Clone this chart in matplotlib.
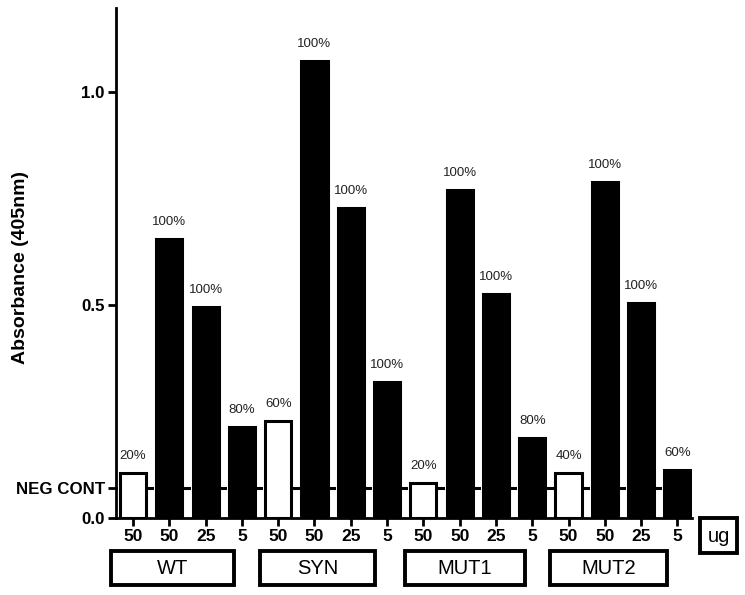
import matplotlib.pyplot as plt
from matplotlib.patches import Rectangle

plt.rcParams['font.family'] = ['Liberation Sans', 'DejaVu Sans']

# Data
groups = ['WT', 'SYN', 'MUT1', 'MUT2']
doses = ['50', '50', '25', '5'] * 4
values = [0.106, 0.655, 0.495, 0.214,
          0.228, 1.073, 0.728, 0.319,
          0.082, 0.770, 0.526, 0.188,
          0.106, 0.789, 0.505, 0.113]
percents = ['20%', '100%', '100%', '80%',
            '60%', '100%', '100%', '100%',
            '20%', '100%', '100%', '80%',
            '40%', '100%', '100%', '60%']
is_control = [True, False, False, False] * 4
neg_cont = 0.070

fig = plt.figure(figsize=(7.45, 5.95), dpi=100)
ax = fig.add_axes([0.1557, 0.1294, 0.773, 0.857])

x = list(range(len(values)))
w = 0.72
ax.axhline(neg_cont, color='black', lw=2.2, zorder=1)
# white halo around bars so the line stops just short of them
ax.bar(x, values, width=w + 0.1, color='white', edgecolor='none', zorder=2)
colors = ['white' if c else 'black' for c in is_control]
ax.bar(x, values, width=w, color=colors, edgecolor='black', linewidth=2.2, zorder=3)

for xi, v, p in zip(x, values, percents):
    ax.text(xi, v + 0.025, p, ha='center', va='bottom', fontsize=9.5, color='#222222')

ax.set_xlim(-0.47, 15.4)
ax.set_ylim(0, 1.197)
ax.set_xticks(x)
ax.set_xticklabels(doses, fontsize=12.5, fontweight='bold')
ax.set_yticks([0, neg_cont, 0.5, 1.0])
ax.set_yticklabels(['0.0', 'NEG CONT', '0.5', '1.0'], fontsize=12.2, fontweight='bold')
ax.tick_params(width=2, length=6, direction='out', pad=2)
ax.spines['top'].set_visible(False)
ax.spines['right'].set_visible(False)
ax.spines['left'].set_linewidth(2)
ax.spines['bottom'].set_linewidth(2)
ax.set_ylabel('Absorbance (405nm)', fontsize=14, fontweight='bold')
ax.yaxis.set_label_coords(-0.151, 0.492)

# group boxes below the axis (pixel positions from the reference)
W, H = 745, 595
boxes = [(111, 234), (260, 375), (405, 525), (550, 667)]
for (x0, x1), g in zip(boxes, groups):
    fig.patches.append(Rectangle((x0 / W, 1 - 585 / H), (x1 - x0) / W, 34 / H,
                                 transform=fig.transFigure, fill=False,
                                 edgecolor='black', linewidth=2.8))
    fig.text((x0 + x1) / 2 / W, 1 - 568 / H, g, ha='center', va='center', fontsize=14.5)

fig.patches.append(Rectangle((700 / W, 1 - 553 / H), 37 / W, 35 / H,
                             transform=fig.transFigure, fill=False,
                             edgecolor='black', linewidth=2.8))
fig.text(718.5 / W, 1 - 537 / H, 'ug', ha='center', va='center', fontsize=14.5)

fig.savefig('out.png', dpi=100)
